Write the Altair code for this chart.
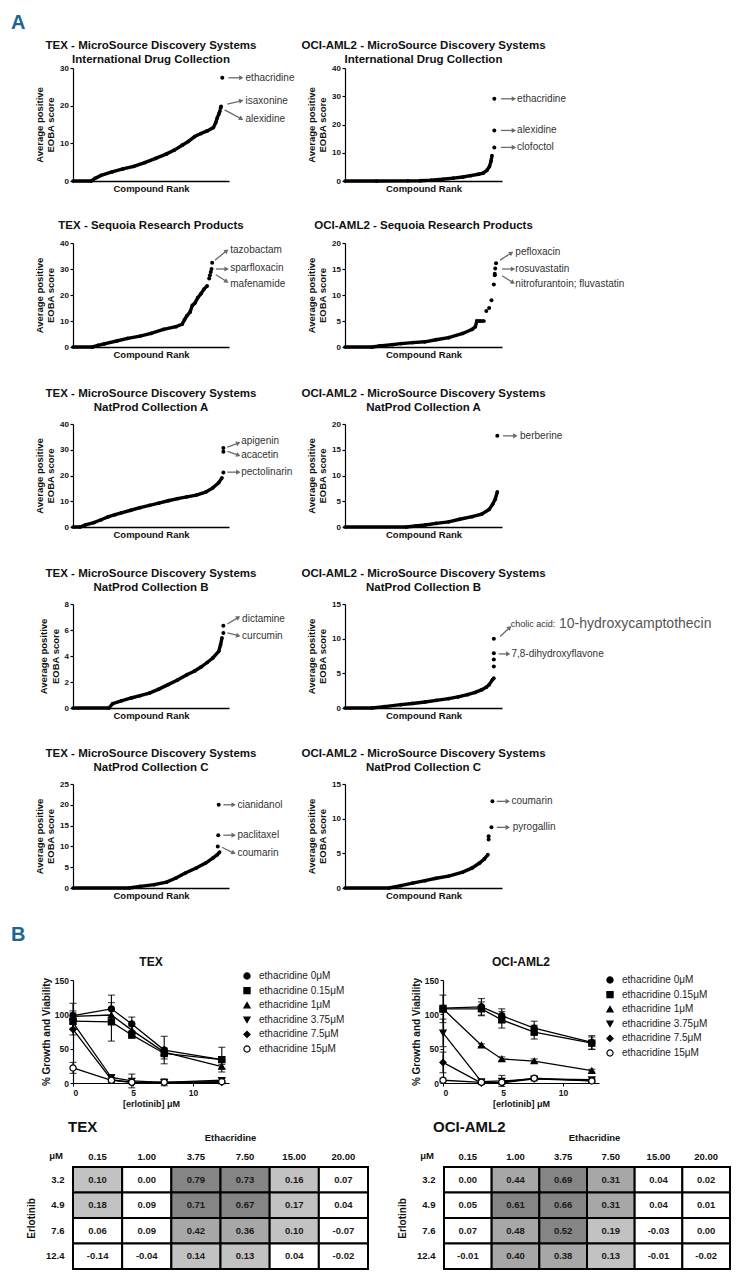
import math
import altair as alt
import pandas as pd

FONT = "Liberation Sans"
NARROW = "Liberation Sans Narrow, Liberation Sans, Arial, sans-serif"
INK = "#111111"
ARROW = "#6b6b6b"
BLUE = "#1e6592"
LEFT = -62  # left edge of the figure relative to the left plot origin

# ---------------- Panel A data (rank curves) ----------------
# TEX - International Drug Collection
tex_idc_rank = [0, 11.7, 14, 18, 25, 32, 39, 46, 53, 60, 65, 70, 74, 78, 82, 86, 90, 91.5, 92.5, 93.5, 94.2]
tex_idc_score = [0, 0, 0.7, 1.5, 2.4, 3.2, 3.9, 4.9, 6.0, 7.2, 8.2, 9.5, 10.5, 11.8, 12.6, 13.3, 14.2, 15.5, 16.8, 17.8, 18.6]
tex_idc_hit_rank = [94.6, 94.9, 95.7]
tex_idc_hit_score = [19.4, 19.8, 27.4]
tex_idc_names = ["ethacridine", "isaxonine", "alexidine"]
tex_idc_notes = [(99.6, 27.4, 107.9, 27.4, 110.6, 27.4),
                 (98.9, 20.4, 107.9, 21.3, 110.6, 21.3),
                 (97.2, 18.9, 107.9, 16.5, 110.6, 16.5)]

# OCI-AML2 - International Drug Collection
oci_idc_rank = [0, 20, 40, 48, 55, 62, 69, 75, 80, 85, 88, 90.4, 92, 93, 93.6]
oci_idc_score = [0, 0, 0.05, 0.1, 0.3, 0.6, 1.0, 1.4, 1.9, 2.4, 2.8, 3.8, 5.1, 7.0, 9.0]
oci_idc_hit_rank = [95.1, 95.1, 95.1]
oci_idc_hit_score = [29.1, 17.9, 11.9]
oci_idc_names = ["ethacridine", "alexidine", "clofoctol"]
oci_idc_notes = [(99.3, 29.1, 107.6, 29.1, 109.6, 29.1),
                 (99.3, 17.9, 107.6, 17.9, 109.6, 17.9),
                 (99.3, 11.9, 107.6, 11.9, 109.6, 11.9)]

# TEX - Sequoia Research Products
tex_seq_rank = [0, 12.5, 16, 20, 28, 35, 43, 50, 58, 66, 70, 71.5, 73, 75, 76.5, 78, 80, 82, 84, 86]
tex_seq_score = [0, 0, 0.6, 1.2, 2.3, 3.3, 4.2, 5.2, 6.8, 7.8, 8.8, 10.5, 12.0, 13.4, 16.0, 16.8, 19.0, 20.5, 22.3, 23.5]
tex_seq_hit_rank = [87.3, 87.8, 88.3, 88.8, 89.2]
tex_seq_hit_score = [26.3, 27.6, 28.8, 30.0, 32.4]
tex_seq_names = ["tazobactam", "sparfloxacin", "mafenamide"]
tex_seq_notes = [(91.0, 33.4, 98.5, 37.0, 100.8, 37.4),
                 (91.6, 30.0, 98.5, 30.0, 100.8, 30.3),
                 (91.6, 27.8, 98.5, 25.2, 100.8, 24.3)]

# OCI-AML2 - Sequoia Research Products
oci_seq_rank = [0, 17.3, 22, 30, 35.6, 43, 50.8, 58, 66, 75, 81, 83, 84, 86, 88.5]
oci_seq_score = [0, 0, 0.2, 0.45, 0.65, 0.85, 1.0, 1.4, 1.8, 2.6, 3.4, 3.9, 5.0, 5.0, 5.0]
oci_seq_hit_rank = [90.0, 91.8, 93.3, 94.8, 95.4, 95.4, 95.7, 96.2]
oci_seq_hit_score = [6.9, 7.5, 9.0, 12.0, 13.8, 14.1, 15.1, 16.1]
oci_seq_names = ["pefloxacin", "rosuvastatin", "nitrofurantoin; fluvastatin"]
oci_seq_notes = [(98.8, 16.7, 106.0, 18.1, 108.5, 18.2),
                 (100.0, 15.0, 107.0, 15.0, 108.5, 15.0),
                 (100.0, 13.7, 107.0, 12.4, 108.5, 12.2)]

# TEX - NatProd Collection A
tex_npa_rank = [0, 4.5, 8, 13.4, 18, 22.4, 27, 31, 37, 43, 49, 55, 61, 67, 73, 79, 85, 89.6, 93.4, 95.5]
tex_npa_score = [0, 0, 0.8, 1.7, 2.8, 3.9, 4.8, 5.5, 6.5, 7.5, 8.4, 9.3, 10.2, 11.0, 11.7, 12.4, 13.5, 15.2, 17.2, 19.1]
tex_npa_hit_rank = [96.4, 96.4, 96.4]
tex_npa_hit_score = [21.2, 29.2, 30.7]
tex_npa_names = ["apigenin", "acacetin", "pectolinarin"]
tex_npa_notes = [(99.0, 31.0, 106.0, 32.6, 107.8, 33.3),
                 (99.0, 29.4, 106.0, 27.9, 107.8, 28.1),
                 (99.0, 21.3, 106.0, 21.3, 107.8, 21.3)]

# OCI-AML2 - NatProd Collection A
oci_npa_rank = [0, 39, 45, 51, 58, 66, 73, 81, 87, 91.8, 94, 95.7, 97]
oci_npa_score = [0, 0, 0.2, 0.4, 0.7, 1.0, 1.5, 2.0, 2.5, 3.4, 4.4, 5.4, 6.8]
oci_npa_hit_rank = [97.0]
oci_npa_hit_score = [17.7]
oci_npa_names = ["berberine"]
oci_npa_notes = [(100.6, 17.7, 108.5, 17.7, 111.5, 17.7)]

# TEX - NatProd Collection B
tex_npb_rank = [0, 23, 25.4, 31, 37.3, 43, 49, 55, 61, 67, 73, 78, 82, 86, 89.6, 93.4, 94.6, 95.5]
tex_npb_score = [0, 0, 0.33, 0.55, 0.77, 0.95, 1.15, 1.45, 1.8, 2.15, 2.56, 2.85, 3.15, 3.5, 3.85, 4.36, 4.87, 5.4]
tex_npb_hit_rank = [96.4, 96.4]
tex_npb_hit_score = [5.77, 6.33]
tex_npb_names = ["dictamine", "curcumin"]
tex_npb_notes = [(99.0, 6.46, 106.0, 6.97, 108.4, 6.87),
                 (99.0, 5.77, 106.0, 5.56, 108.4, 5.56)]

# OCI-AML2 - NatProd Collection B
oci_npb_rank = [0, 17.3, 25, 35.6, 43, 51, 58, 66, 72, 78, 83, 87.2, 90, 91.8, 94, 94.8]
oci_npb_score = [0, 0, 0.2, 0.48, 0.65, 0.87, 1.1, 1.35, 1.6, 1.92, 2.25, 2.64, 3.0, 3.37, 4.1, 4.3]
oci_npb_hit_rank = [94.8, 94.8, 94.8, 94.8]
oci_npb_hit_score = [6.0, 7.0, 7.9, 10.0]
oci_npb_names = ["cholic acid:", "7,8-dihydroxyflavone"]
oci_npb_sizes = [9, 10]
oci_npb_notes = [(98.8, 10.3, 104.9, 11.6, 105.5, 12.1),
                 (97.9, 7.8, 104.0, 7.8, 106.0, 7.8)]
oci_npb_extra = [("10-hydroxycamptothecin", 136.3, 12.1)]

# TEX - NatProd Collection C
tex_npc_rank = [0, 36, 43, 52, 60, 66, 72, 79, 85, 89.6, 92.5, 94]
tex_npc_score = [0, 0, 0.4, 0.8, 1.4, 2.4, 3.6, 4.8, 6.0, 7.2, 8.0, 8.65]
tex_npc_hit_rank = [92.8, 93.1, 93.4]
tex_npc_hit_score = [10.0, 12.7, 20.0]
tex_npc_names = ["cianidanol", "paclitaxel", "coumarin"]
tex_npc_notes = [(96.4, 20.0, 103.0, 20.0, 105.4, 20.0),
                 (96.4, 12.7, 103.0, 12.7, 105.4, 12.7),
                 (95.5, 9.8, 103.0, 8.4, 105.4, 8.3)]

# OCI-AML2 - NatProd Collection C
oci_npc_rank = [0, 28, 35.6, 43, 51, 58, 66, 75, 81, 85.7, 88.8, 91]
oci_npc_score = [0, 0, 0.34, 0.7, 1.06, 1.4, 1.7, 2.3, 2.9, 3.6, 4.2, 4.8]
oci_npc_hit_rank = [91.5, 91.5, 93.3, 93.9]
oci_npc_hit_score = [7.0, 7.45, 8.75, 12.5]
oci_npc_names = ["coumarin", "pyrogallin"]
oci_npc_notes = [(96.7, 12.5, 103.7, 12.5, 106.0, 12.5),
                 (96.7, 8.75, 103.7, 8.75, 106.8, 8.75)]

# ---------------- Panel B data ----------------
erlotinib = [0, 3.2, 4.9, 7.6, 12.4]
conc_labels = ["ethacridine 0μM", "ethacridine 0.15μM", "ethacridine 1μM",
               "ethacridine 3.75μM", "ethacridine 7.5μM", "ethacridine 15μM"]
tex_growth = [[98, 108, 86, 48, 34],
              [90, 89, 70, 43, 34],
              [97, 99, 77, 45, 24],
              [88, 8, 3, 1, 4],
              [78, 5, 1, 1, 1],
              [22, 4, 1, 1, 2]]
tex_err = [[18, 20, 10, 20, 18],
           [12, 28, 5, 8, 4],
           [8, 8, 6, 5, 3],
           [10, 4, 10, 5, 3],
           [8, 3, 2, 2, 2],
           [8, 3, 2, 1, 1]]
oci_growth = [[109, 111, 98, 80, 59],
              [108, 108, 92, 74, 58],
              [108, 55, 35, 32, 18],
              [73, 2, 3, 6, 5],
              [30, 0, 0, 6, 3],
              [4, 1, 1, 7, 3]]
oci_err = [[4, 12, 10, 10, 10],
           [5, 10, 12, 10, 9],
           [20, 2, 3, 3, 2],
           [20, 3, 8, 3, 2],
           [15, 2, 2, 2, 2],
           [3, 2, 2, 2, 2]]

eth_cols = ["0.15", "1.00", "3.75", "7.50", "15.00", "20.00"]
erl_rows = ["3.2", "4.9", "7.6", "12.4"]
tex_syn = [[0.10, 0.00, 0.79, 0.73, 0.16, 0.07],
           [0.18, 0.09, 0.71, 0.67, 0.17, 0.04],
           [0.06, 0.09, 0.42, 0.36, 0.10, -0.07],
           [-0.14, -0.04, 0.14, 0.13, 0.04, -0.02]]
oci_syn = [[0.00, 0.44, 0.69, 0.31, 0.04, 0.02],
           [0.05, 0.61, 0.66, 0.31, 0.04, 0.01],
           [0.07, 0.48, 0.52, 0.19, -0.03, 0.00],
           [-0.01, 0.40, 0.38, 0.13, -0.01, -0.02]]


def frame(top, bottom, letter=None):
    """Invisible rule fixing the row extent, plus the optional panel letter."""
    layers = [alt.Chart(pd.DataFrame({"t": [0]})).mark_rule(opacity=0, color="white").encode(
        x=alt.value(LEFT), y=alt.value(-top), y2=alt.value(bottom))]
    if letter:
        layers.append(alt.Chart(pd.DataFrame({"t": [letter]})).mark_text(
            align="left", baseline="top", fontSize=20, fontWeight="bold", color=BLUE,
            font=NARROW).encode(x=alt.value(LEFT), y=alt.value(-55), text="t:N"))
    return layers


def title_text(text, w, top, size=11.5):
    return alt.Chart(pd.DataFrame({"t": [text]})).mark_text(
        align="center", baseline="top", fontSize=size, fontWeight="bold", color=INK,
        lineBreak="\n", lineHeight=13.5).encode(
        x=alt.value(w / 2), y=alt.value(top), text="t:N")


def rank_panel(title, rank, score, hit_rank, hit_score, names, notes, ymax, ystep,
               w, h, ttop, sizes=None, extra=None, fr=None):
    xs = alt.Scale(domain=[0, 100], nice=False, zero=False)
    ys = alt.Scale(domain=[0, ymax], nice=False)
    xax = alt.Axis(title="Compound Rank", labels=False, ticks=False, grid=False,
                   domainColor="black", domainWidth=1.6, titleFontSize=9.5,
                   titleFontWeight="bold", titlePadding=2, titleColor=INK)
    yax = alt.Axis(values=list(range(0, ymax + 1, ystep)),
                   title=["Average positive", "EOBA score"], grid=False,
                   domainColor="black", domainWidth=1.2, tickColor="black",
                   tickSize=3, tickWidth=1.2, labelFontSize=8, labelFontWeight="bold",
                   labelPadding=1.5, labelColor=INK, titleFontSize=9.5,
                   titleFontWeight="bold", titlePadding=4, titleColor=INK)

    def X(f):
        return alt.X(f, type="quantitative", scale=xs, axis=xax)

    def Y(f):
        return alt.Y(f, type="quantitative", scale=ys, axis=yax)

    cdf = pd.DataFrame({"r": rank, "s": score})
    hdf = pd.DataFrame({"r": hit_rank, "s": hit_score})
    if sizes is None:
        sizes = [10] * len(names)
    recs = []
    for lab, fs, (x1, y1, x2, y2, tx, ty) in zip(names, sizes, notes):
        ang = math.degrees(math.atan2(-(y2 - y1) * h / ymax, (x2 - x1) * w / 100.0)) % 360
        recs.append(dict(label=lab, fs=fs, x1=x1, y1=y1, x2=x2, y2=y2, tx=tx, ty=ty, ang=ang))
    adf = pd.DataFrame(recs)

    line = alt.Chart(cdf).mark_line(color="black", strokeWidth=3.4).encode(x=X("r"), y=Y("s"))
    dots = alt.Chart(cdf).mark_circle(color="black", size=14, opacity=1).encode(x=X("r"), y=Y("s"))
    hits = alt.Chart(hdf).mark_circle(color="black", size=16, opacity=1).encode(x=X("r"), y=Y("s"))
    rules = alt.Chart(adf).mark_rule(color=ARROW, strokeWidth=1.3).encode(
        x=X("x1"), y=Y("y1"), x2=alt.X2("x2"), y2=alt.Y2("y2"))
    heads = alt.Chart(adf).mark_point(shape="triangle-right", filled=True, color=ARROW,
                                      size=26, opacity=1).encode(
        x=X("x2"), y=Y("y2"), angle=alt.Angle("ang:Q", scale=None))
    texts = alt.Chart(adf).mark_text(align="left", baseline="middle", color="#333333",
                                     font=FONT).encode(
        x=X("tx"), y=Y("ty"), text="label:N", size=alt.Size("fs:Q", scale=None))
    layers = [line, dots, hits, rules, heads, texts, title_text(title, w, ttop)]
    if extra:
        edf = pd.DataFrame({"label": [e[0] for e in extra], "tx": [e[1] for e in extra],
                            "ty": [e[2] for e in extra]})
        layers.append(alt.Chart(edf).mark_text(align="left", baseline="middle",
                                               color="#555555", fontSize=14, font=NARROW).encode(
            x=X("tx"), y=Y("ty"), text="label:N"))
    if fr:
        layers += fr
    return alt.layer(*layers).properties(width=w, height=h)


def dose_chart(title, means, errs, lx, ly, fr=None):
    recs = []
    for c, m, e in zip(conc_labels, means, errs):
        for x, y, d in zip(erlotinib, m, e):
            recs.append(dict(conc=c, x=x, y=y, lo=y - d, hi=y + d))
    df = pd.DataFrame(recs)
    xs = alt.Scale(domain=[0, 13], nice=False)
    ys = alt.Scale(domain=[0, 150], nice=False)
    xax = alt.Axis(values=[0, 5, 10], title="[erlotinib] μM", grid=False, domainColor="black",
                   domainWidth=1.2, tickColor="black", tickSize=3, labelFontSize=8.5,
                   labelFontWeight="bold", labelPadding=2, labelColor=INK,
                   titleFontSize=9, titleFontWeight="bold", titlePadding=3, titleColor=INK)
    yax = alt.Axis(values=[0, 50, 100, 150], title="% Growth and Viability", grid=False,
                   domainColor="black", domainWidth=1.2, tickColor="black", tickSize=3,
                   labelFontSize=8.5, labelFontWeight="bold", labelPadding=1.5, labelColor=INK,
                   titleFontSize=10, titleFontWeight="bold", titlePadding=3, titleColor=INK)

    def X(f):
        return alt.X(f, type="quantitative", scale=xs, axis=xax)

    def Y(f):
        return alt.Y(f, type="quantitative", scale=ys, axis=yax)

    base = alt.Chart(df)
    leg = alt.Legend(title=None, orient="none", legendX=lx, legendY=ly, labelFontSize=10,
                     labelColor="#222222", symbolSize=38, symbolStrokeWidth=1.2,
                     rowPadding=2.6, labelOffset=7, padding=0)
    lines = base.mark_line(color="black", strokeWidth=1.3).encode(x=X("x"), y=Y("y"), detail="conc:N")
    bars = base.mark_rule(color="black", strokeWidth=1.1).encode(x=X("x"), y=Y("lo"), y2=alt.Y2("hi"))
    cap_lo = base.mark_tick(orient="horizontal", size=7, thickness=1.2, color="black").encode(x=X("x"), y=Y("lo"))
    cap_hi = base.mark_tick(orient="horizontal", size=7, thickness=1.2, color="black").encode(x=X("x"), y=Y("hi"))
    pts = base.mark_point(filled=False, size=38, strokeWidth=1.2, opacity=1).encode(
        x=X("x"), y=Y("y"),
        color=alt.Color("conc:N", scale=alt.Scale(domain=conc_labels, range=["black"] * 6), legend=leg),
        shape=alt.Shape("conc:N", scale=alt.Scale(domain=conc_labels,
                        range=["circle", "square", "triangle-up", "triangle-down", "diamond", "circle"]),
                        legend=leg),
        fill=alt.Fill("conc:N", scale=alt.Scale(domain=conc_labels,
                      range=["black"] * 5 + ["white"]), legend=leg))
    layers = [bars, cap_lo, cap_hi, lines, pts, title_text(title, 156, -23, 12)]
    if fr:
        layers += fr
    return alt.layer(*layers).properties(width=156, height=103)


def syn_table(name, vals, w, name_dx, title_x, fr=None):
    recs = []
    for i, r in enumerate(erl_rows):
        for j, c in enumerate(eth_cols):
            v = vals[i][j]
            recs.append(dict(col=c, row=r, v=v, t=f"{v:.2f}"))
    df = pd.DataFrame(recs)
    X = alt.X("col:O", sort=eth_cols, axis=alt.Axis(
        orient="top", title="Ethacridine", labelAngle=0, domain=False, ticks=False,
        labelFontSize=9.5, labelFontWeight="bold", labelPadding=6, labelColor=INK,
        titleFontSize=9.5, titleFontWeight="bold", titlePadding=9, titleX=title_x, titleColor=INK))
    Y = alt.Y("row:O", sort=erl_rows, axis=alt.Axis(
        title="Erlotinib", domain=False, ticks=False, labelFontSize=9.5,
        labelFontWeight="bold", labelPadding=9, labelColor=INK, titleFontSize=10,
        titleFontWeight="bold", titlePadding=9, titleColor=INK))
    base = alt.Chart(df)
    rect = base.mark_rect(stroke="black", strokeWidth=2).encode(
        x=X, y=Y,
        color=alt.Color("v:Q", scale=alt.Scale(type="threshold", domain=[0.1, 0.3, 0.5],
                        range=["#ffffff", "#c2c2c2", "#a7a7a7", "#858585"]), legend=None))
    txt = base.mark_text(fontSize=9.5, fontWeight="bold", color="#1a1a1a").encode(x=X, y=Y, text="t:N")
    corner = alt.Chart(pd.DataFrame({"t": ["μM"]})).mark_text(
        align="right", baseline="alphabetic", fontSize=9.5, fontWeight="bold", color=INK).encode(
        x=alt.value(-10), y=alt.value(-8), text="t:N")
    head = alt.Chart(pd.DataFrame({"t": [name]})).mark_text(
        align="left", baseline="alphabetic", fontSize=15, fontWeight="bold", color=INK).encode(
        x=alt.value(name_dx), y=alt.value(-35), text="t:N")
    layers = [rect, txt, corner, head]
    if fr:
        layers += fr
    return alt.layer(*layers).properties(width=w, height=102)


MS_TEX = "TEX - MicroSource Discovery Systems\n"
MS_OCI = "OCI-AML2 - MicroSource Discovery Systems\n"
row1 = alt.hconcat(
    rank_panel(MS_TEX + "International Drug Collection", tex_idc_rank, tex_idc_score,
               tex_idc_hit_rank, tex_idc_hit_score, tex_idc_names, tex_idc_notes, 30, 10, 156, 113, -28,
               fr=frame(55, 113 + 18, "A")),
    rank_panel(MS_OCI + "International Drug Collection", oci_idc_rank, oci_idc_score,
               oci_idc_hit_rank, oci_idc_hit_score, oci_idc_names, oci_idc_notes, 40, 10, 157, 113, -28),
    spacing=116, bounds="flush")
row2 = alt.hconcat(
    rank_panel("TEX - Sequoia Research Products", tex_seq_rank, tex_seq_score,
               tex_seq_hit_rank, tex_seq_hit_score, tex_seq_names, tex_seq_notes, 40, 10, 156, 104, -23,
               fr=frame(44, 104 + 18)),
    rank_panel("OCI-AML2 - Sequoia Research Products", oci_seq_rank, oci_seq_score,
               oci_seq_hit_rank, oci_seq_hit_score, oci_seq_names, oci_seq_notes, 20, 5, 157, 104, -23),
    spacing=116, bounds="flush")
row3 = alt.hconcat(
    rank_panel(MS_TEX + "NatProd Collection A", tex_npa_rank, tex_npa_score,
               tex_npa_hit_rank, tex_npa_hit_score, tex_npa_names, tex_npa_notes, 40, 10, 156, 103, -36,
               fr=frame(59, 103 + 18)),
    rank_panel(MS_OCI + "NatProd Collection A", oci_npa_rank, oci_npa_score,
               oci_npa_hit_rank, oci_npa_hit_score, oci_npa_names, oci_npa_notes, 20, 5, 157, 103, -36),
    spacing=116, bounds="flush")
row4 = alt.hconcat(
    rank_panel(MS_TEX + "NatProd Collection B", tex_npb_rank, tex_npb_score,
               tex_npb_hit_rank, tex_npb_hit_score, tex_npb_names, tex_npb_notes, 8, 2, 156, 104, -36,
               fr=frame(59, 104 + 18)),
    rank_panel(MS_OCI + "NatProd Collection B", oci_npb_rank, oci_npb_score,
               oci_npb_hit_rank, oci_npb_hit_score, oci_npb_names, oci_npb_notes, 15, 5, 157, 104, -36,
               sizes=oci_npb_sizes, extra=oci_npb_extra),
    spacing=116, bounds="flush")
row5 = alt.hconcat(
    rank_panel(MS_TEX + "NatProd Collection C", tex_npc_rank, tex_npc_score,
               tex_npc_hit_rank, tex_npc_hit_score, tex_npc_names, tex_npc_notes, 25, 5, 156, 104, -36,
               fr=frame(58, 104 + 18)),
    rank_panel(MS_OCI + "NatProd Collection C", oci_npc_rank, oci_npc_score,
               oci_npc_hit_rank, oci_npc_hit_score, oci_npc_names, oci_npc_notes, 15, 5, 157, 104, -36),
    spacing=116, bounds="flush")
row6 = alt.hconcat(
    dose_chart("TEX", tex_growth, tex_err, 169, -9, fr=frame(74, 103 + 32, "B")),
    dose_chart("OCI-AML2", oci_growth, oci_err, 162, -5),
    spacing=214, bounds="flush").resolve_scale(
    shape="independent", fill="independent", color="independent").resolve_legend(
    shape="independent", fill="independent", color="independent")
row7 = alt.hconcat(
    syn_table("TEX", tex_syn, 295, -5, 157, fr=frame(52, 102 + 2)),
    syn_table("OCI-AML2", oci_syn, 286, -11, 150),
    spacing=76, bounds="flush")

chart = alt.vconcat(row1, row2, row3, row4, row5, row6, row7, spacing=0).resolve_scale(
    color="independent", shape="independent", fill="independent").properties(
    padding={"left": 3, "top": 5, "right": 0, "bottom": 3}).configure_view(
    stroke=None).configure_axis(labelFont=FONT, titleFont=FONT).configure_text(
    font=FONT).configure_legend(labelFont=FONT)

chart.save("out.html", embed_options={"renderer": "svg", "actions": False})
